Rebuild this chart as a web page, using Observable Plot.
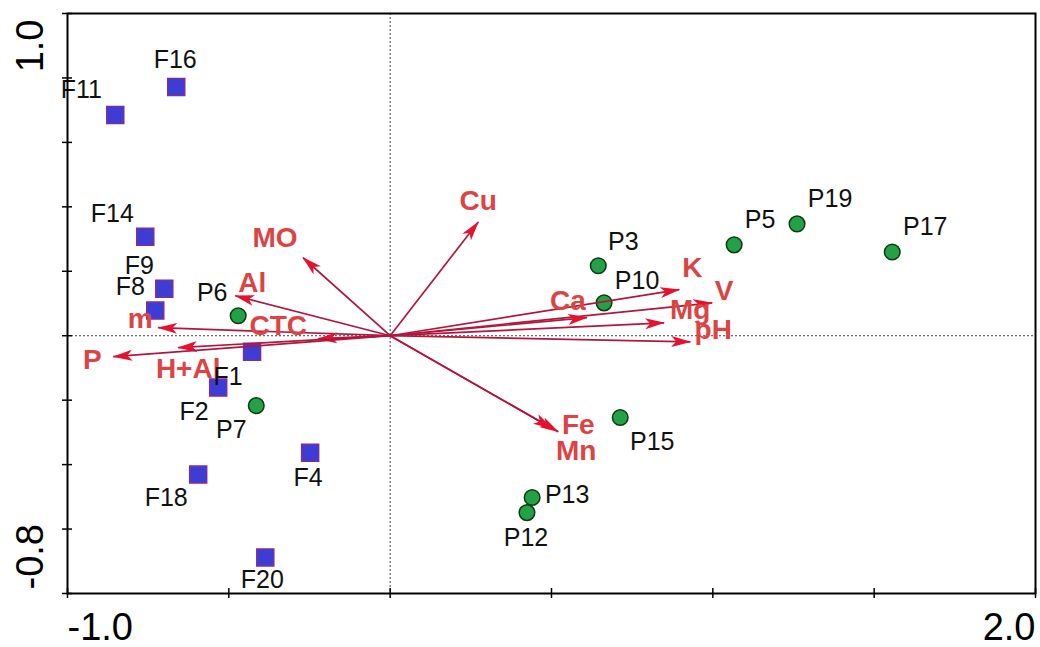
<!DOCTYPE html>
<html>
<head>
<meta charset="utf-8">
<script src="https://cdn.jsdelivr.net/npm/d3@7"></script>
<script src="https://cdn.jsdelivr.net/npm/@observablehq/plot@0.6"></script>
<style>
  html, body { margin: 0; padding: 0; background: #fff; }
  #chart svg { display: block; }
</style>
</head>
<body>
<div id="chart"></div>
<script>
// ---------- data ----------
const envNames = ["Cu", "MO", "Al", "m", "CTC", "H+Al", "P", "K", "V", "Mg", "pH", "Ca", "Fe", "Mn"];
const envX = [0.273, -0.270, -0.480, -0.719, -0.223, -0.657, -0.858, 0.896, 0.998, 0.849, 0.930, 0.610, 0.521, 0.502];
const envY = [0.353, 0.242, 0.124, 0.025, -0.009, -0.037, -0.065, 0.143, 0.102, 0.040, -0.019, 0.056, -0.298, -0.288];

const fNames = ["F16", "F11", "F14", "F9", "F8", "F1", "F2", "F18", "F4", "F20"];
const fX = [-0.663, -0.852, -0.759, -0.700, -0.728, -0.428, -0.533, -0.595, -0.248, -0.387];
const fY = [0.772, 0.685, 0.307, 0.146, 0.078, -0.050, -0.161, -0.431, -0.363, -0.688];

const pNames = ["P6", "P7", "P3", "P10", "P5", "P19", "P17", "P15", "P13", "P12"];
const pX = [-0.471, -0.415, 0.645, 0.663, 1.066, 1.261, 1.556, 0.713, 0.440, 0.424];
const pY = [0.062, -0.217, 0.217, 0.102, 0.282, 0.347, 0.260, -0.254, -0.502, -0.549];

const xTicks = [-1.0, -0.5, 0, 0.5, 1.0, 1.5, 2.0];
const yTicks = [-0.8, -0.6, -0.4, -0.2, 0, 0.2, 0.4, 0.6, 0.8, 1.0];
const xEndLabels = ["-1.0", "2.0"];
const yEndLabels = ["1.0", "-0.8"];
const xDomain = [-1.0, 2.0];
const yDomain = [-0.8, 1.0];

// ---------- layout (label offsets in px) ----------
const envLabelOffset = {
  "Cu": [0, -21], "MO": [-28, -20], "Al": [17, -13], "m": [-18, -9], "CTC": [-40, -13],
  "H+Al": [10, 21], "P": [-21, 3], "K": [13, -22], "V": [12, -12], "Mg": [26, -13],
  "pH": [23, -12], "Ca": [-19, -17], "Fe": [20, -7], "Mn": [24, 23]
};
const siteLabelOffset = {
  "F16": [-1, -27], "F11": [-34, -25], "F14": [-33, -23], "F9": [-25, -23], "F8": [-25, -24],
  "F1": [-24, 25], "F2": [-24, 24], "F18": [-32, 23], "F4": [-2, 25], "F20": [-3, 23],
  "P6": [-26, -23], "P7": [-25, 24], "P3": [25, -24], "P10": [33, -22], "P5": [26, -25],
  "P19": [33, -25], "P17": [33, -25], "P15": [32, 24], "P13": [35, -2], "P12": [-1, 25]
};

// ---------- build tables ----------
const env = envNames.map((n, i) => ({name: n, x: envX[i], y: envY[i]}));
const fSites = fNames.map((n, i) => ({name: n, x: fX[i], y: fY[i]}));
const pSites = pNames.map((n, i) => ({name: n, x: pX[i], y: pY[i]}));

const FONT = "Arial, 'Liberation Sans', sans-serif";
const W = 1040, H = 647;
const mL = 67, mR = 5, mT = 13, mB = 54;
const plotW = W - mL - mR, plotH = H - mT - mB;

const envLabelMarks = env.map(d => Plot.text([d], {
  x: "x", y: "y", text: "name",
  dx: envLabelOffset[d.name][0], dy: envLabelOffset[d.name][1],
  fill: "#dc4444", fontSize: 28, fontWeight: "bold", fontFamily: FONT
}));
const siteLabelMarks = [...fSites, ...pSites].map(d => Plot.text([d], {
  x: "x", y: "y", text: "name",
  dx: siteLabelOffset[d.name][0], dy: siteLabelOffset[d.name][1],
  fill: "#111", fontSize: 25, fontFamily: FONT
}));

const chart = Plot.plot({
  width: W, height: H,
  marginLeft: mL, marginRight: mR, marginTop: mT, marginBottom: mB,
  x: {domain: xDomain, axis: null},
  y: {domain: yDomain, axis: null},
  style: {background: "#fff", fontFamily: FONT},
  marks: [
    Plot.ruleX([0], {stroke: "#444", strokeWidth: 1, strokeDasharray: "2,2"}),
    Plot.ruleY([0], {stroke: "#444", strokeWidth: 1, strokeDasharray: "2,2"}),
    Plot.dot(fSites, {x: "x", y: "y", symbol: "square", r: 9.6, fill: "#3d3dd6", stroke: "#7a2fa0", strokeWidth: 1.5}),
    Plot.dot(pSites, {x: "x", y: "y", symbol: "circle", r: 7.8, fill: "#24a046", stroke: "#0d3d12", strokeWidth: 1.5}),
    Plot.link(env, {x1: () => 0, y1: () => 0, x2: "x", y2: "y", stroke: "#b3163c", strokeWidth: 1.7}),
    ...envLabelMarks,
    ...siteLabelMarks,
    Plot.frame({stroke: "#000", strokeWidth: 2}),
    Plot.tickX(xTicks, {x: d => d, insetTop: plotH - 5, insetBottom: -5, stroke: "#000", strokeWidth: 1.5}),
    Plot.tickY(yTicks, {y: d => d, insetLeft: -5, insetRight: plotW - 5, stroke: "#000", strokeWidth: 1.5}),
    Plot.text([{v: xDomain[0], t: xEndLabels[0]}], {x: "v", text: "t", frameAnchor: "bottom", textAnchor: "start", lineAnchor: "bottom", dy: 46, fontSize: 38, fill: "#000", fontFamily: FONT}),
    Plot.text([{v: xDomain[1], t: xEndLabels[1]}], {x: "v", text: "t", frameAnchor: "bottom", textAnchor: "end", lineAnchor: "bottom", dy: 46, fontSize: 38, fill: "#000", fontFamily: FONT}),
    Plot.text([{v: yDomain[1], t: yEndLabels[0]}], {y: "v", text: "t", frameAnchor: "left", textAnchor: "end", rotate: -90, dx: -37, dy: 6, fontSize: 38, fill: "#000", fontFamily: FONT}),
    Plot.text([{v: yDomain[0], t: yEndLabels[1]}], {y: "v", text: "t", frameAnchor: "left", textAnchor: "start", rotate: -90, dx: -37, dy: -4, fontSize: 38, fill: "#000", fontFamily: FONT})
  ]
});

// filled arrowheads on the link mark
const ns = "http://www.w3.org/2000/svg";
const defs = document.createElementNS(ns, "defs");
const marker = document.createElementNS(ns, "marker");
marker.setAttribute("id", "ahead");
marker.setAttribute("markerUnits", "userSpaceOnUse");
marker.setAttribute("viewBox", "0 0 20 12");
marker.setAttribute("refX", "19");
marker.setAttribute("refY", "6");
marker.setAttribute("markerWidth", "20");
marker.setAttribute("markerHeight", "12");
marker.setAttribute("orient", "auto");
const mp = document.createElementNS(ns, "path");
mp.setAttribute("d", "M0,0.5 L20,6 L0,11.5 L5,6 Z");
mp.setAttribute("fill", "#e5112e");
marker.appendChild(mp);
defs.appendChild(marker);
chart.insertBefore(defs, chart.firstChild);
chart.querySelectorAll('g[aria-label="link"] path').forEach(p => p.setAttribute("marker-end", "url(#ahead)"));

document.getElementById("chart").appendChild(chart);
</script>
</body>
</html>
